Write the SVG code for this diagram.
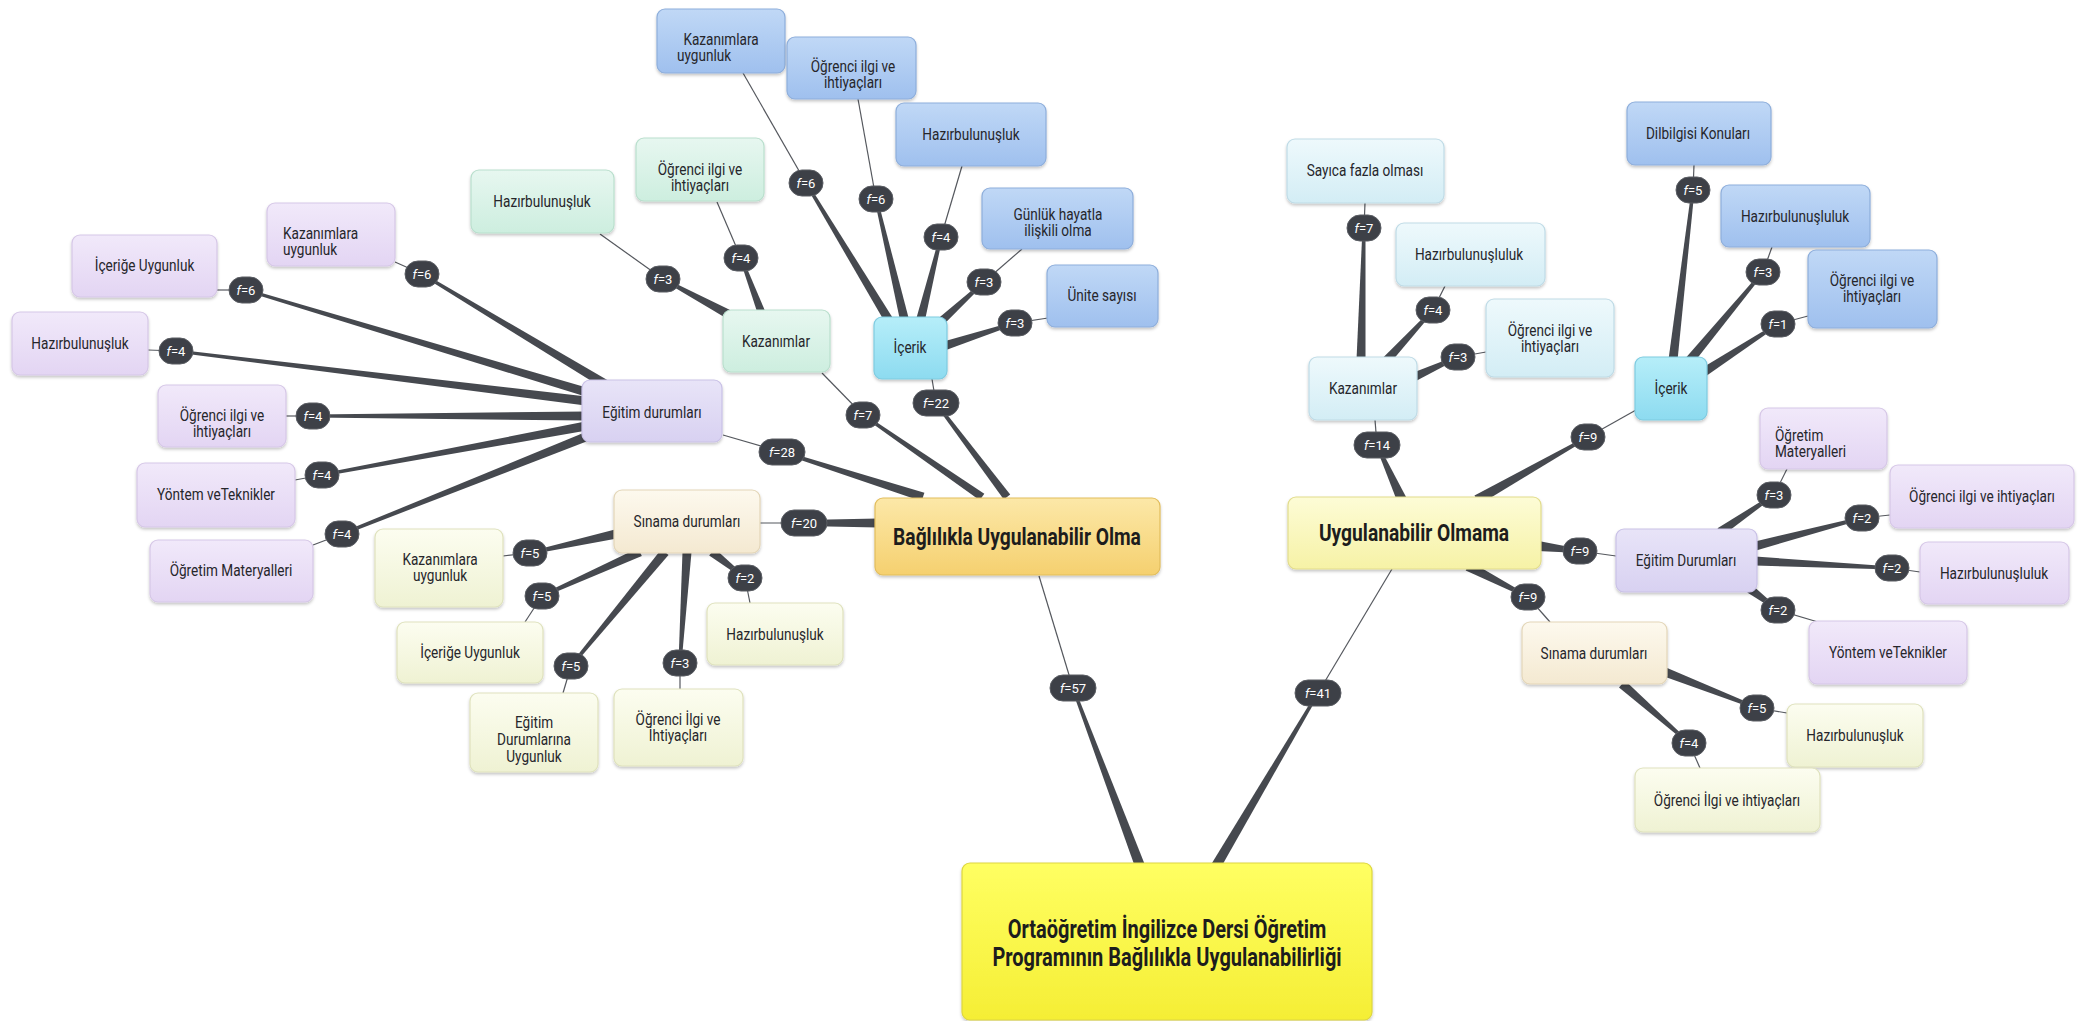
<svg xmlns="http://www.w3.org/2000/svg" width="2087" height="1021" viewBox="0 0 2087 1021">
<style>
  text{font-family:Roboto,"Liberation Sans","Noto Sans",sans-serif;fill:#26262b;font-size:17px;text-anchor:middle}
  text.l{text-anchor:start}
  text.big{font-size:24px;font-weight:700;fill:#1d1d1d}
  text.root{font-size:25px;font-weight:700;fill:#1d1d1d}
  rect{rx:8px;ry:8px;stroke-width:1.2;filter:url(#sh)}
  .pu{fill:url(#gPu);stroke:#d6c7e7}
  .lv{fill:url(#gLv);stroke:#c9c1e6}
  .mi{fill:url(#gMi);stroke:#b9dfcd}
  .bl{fill:url(#gBl);stroke:#8eaedb}
  .cy{fill:url(#gCy);stroke:#7fcbe0}
  .lb{fill:url(#gLb);stroke:#bfdbe6}
  .cr{fill:url(#gCr);stroke:#e3d6b8}
  .yg{fill:url(#gYg);stroke:#dfe2bd}
  .or{fill:url(#gOr);stroke:#e2bd5c}
  .py{fill:url(#gPy);stroke:#e2dc8c}
  .ry{fill:url(#gRy);stroke:#ddd640}
  .w{fill:#46494f}
  .s{stroke:#55585e;stroke-width:1.2;fill:none}
  .b rect{fill:#3d4047;stroke:#5a5d63;stroke-width:1;filter:none;rx:13px;ry:13px}
  .b text{fill:#fff;font-size:13px}
</style>
<defs>
  <filter id="sh" x="-10%" y="-10%" width="120%" height="130%">
    <feDropShadow dx="0" dy="2" stdDeviation="1.6" flood-color="#000" flood-opacity="0.22"/>
  </filter>
  <linearGradient id="gPu" x1="0" y1="0" x2="0" y2="1"><stop offset="0" stop-color="#f1e9fa"/><stop offset="1" stop-color="#e3d5f3"/></linearGradient>
  <linearGradient id="gLv" x1="0" y1="0" x2="0" y2="1"><stop offset="0" stop-color="#e8e4f8"/><stop offset="1" stop-color="#d8d1f1"/></linearGradient>
  <linearGradient id="gMi" x1="0" y1="0" x2="0" y2="1"><stop offset="0" stop-color="#e7f7f0"/><stop offset="1" stop-color="#cdeedf"/></linearGradient>
  <linearGradient id="gBl" x1="0" y1="0" x2="0" y2="1"><stop offset="0" stop-color="#c0d8f6"/><stop offset="1" stop-color="#9fc0ee"/></linearGradient>
  <linearGradient id="gCy" x1="0" y1="0" x2="0" y2="1"><stop offset="0" stop-color="#b6eef9"/><stop offset="1" stop-color="#8ddbf0"/></linearGradient>
  <linearGradient id="gLb" x1="0" y1="0" x2="0" y2="1"><stop offset="0" stop-color="#eef9fc"/><stop offset="1" stop-color="#d3edf5"/></linearGradient>
  <linearGradient id="gCr" x1="0" y1="0" x2="0" y2="1"><stop offset="0" stop-color="#fdf9ee"/><stop offset="1" stop-color="#f4e9d1"/></linearGradient>
  <linearGradient id="gYg" x1="0" y1="0" x2="0" y2="1"><stop offset="0" stop-color="#fcfdf0"/><stop offset="1" stop-color="#eff2d3"/></linearGradient>
  <linearGradient id="gOr" x1="0" y1="0" x2="0" y2="1"><stop offset="0" stop-color="#fce8a8"/><stop offset="1" stop-color="#f5d06f"/></linearGradient>
  <linearGradient id="gPy" x1="0" y1="0" x2="0" y2="1"><stop offset="0" stop-color="#fdfcd6"/><stop offset="1" stop-color="#f6f2a6"/></linearGradient>
  <linearGradient id="gRy" x1="0" y1="0" x2="0" y2="1"><stop offset="0" stop-color="#ffff62"/><stop offset="1" stop-color="#f5ee35"/></linearGradient>
</defs>
<rect x="0" y="0" width="2087" height="1021" fill="#fff" style="filter:none;rx:0;ry:0;stroke:none"/>

<!-- tapered branches (thick at parent, thin at the count label) and thin stems to child -->
<g id="connectors">
  <path class="w" d="M1144.7,864.2L1074.4,687.5L1071.6,688.5L1135.3,867.8Z"/><path class="s" d="M1073,688L1039,576"/>
  <path class="w" d="M1220.3,868.5L1319.3,693.8L1316.7,692.2L1211.7,863.5Z"/><path class="s" d="M1318,693L1392,569"/>
  <path class="w" d="M924.4,492.7L782.5,450.6L781.5,453.4L921.6,501.3Z"/><path class="s" d="M782,452L723,435"/>
  <path class="w" d="M984.3,493.7L863.9,413.8L862.2,416.2L979.7,500.3Z"/><path class="s" d="M863,415L822,373"/>
  <path class="w" d="M1010.2,494.6L937.2,402.1L934.8,403.9L1003.8,499.4Z"/><path class="s" d="M936,403L932,379"/>
  <path class="w" d="M878,518.5L804,520L804,526L878,527.5Z"/><path class="s" d="M804,523L760,523"/>
  <path class="w" d="M607.3,380.1L422.8,272.7L421.2,275.3L602.7,387.9Z"/><path class="s" d="M422,274L395,262"/>
  <path class="w" d="M587.3,387.7L246.4,288.6L245.6,291.4L584.7,396.3Z"/><path class="s" d="M246,290L217,290"/>
  <path class="w" d="M586.5,396.5L176.2,349.5L175.8,352.5L585.5,405.5Z"/><path class="s" d="M176,351L148,350"/>
  <path class="w" d="M586,411.5L313,414.5L313,417.5L586,420.5Z"/><path class="s" d="M313,416L286,416"/>
  <path class="w" d="M585.2,421.6L321.7,473.5L322.3,476.5L586.8,430.4Z"/><path class="s" d="M322,475L295,480"/>
  <path class="w" d="M586.3,431.8L341.4,532.6L342.6,535.4L589.7,440.2Z"/><path class="s" d="M342,534L313,545"/>
  <path class="w" d="M730.1,310L663.7,277.7L662.3,280.3L725.9,318Z"/><path class="s" d="M663,279L600,234"/>
  <path class="w" d="M765.7,312.6L742.4,257.5L739.6,258.5L758.3,315.4Z"/><path class="s" d="M741,258L717,202"/>
  <path class="w" d="M893.9,319.7L807.3,182.2L804.7,183.8L886.1,324.3Z"/><path class="s" d="M806,183L743,73"/>
  <path class="w" d="M909.4,321L877.5,198.7L874.5,199.3L900.6,323Z"/><path class="s" d="M876,199L858,99"/>
  <path class="w" d="M924.4,323.1L942.5,237.4L939.5,236.6L915.6,320.9Z"/><path class="s" d="M941,237L962,166"/>
  <path class="w" d="M939,329.3L985,283.1L983,280.9L933,322.7Z"/><path class="s" d="M984,282L1022,249"/>
  <path class="w" d="M945.4,350.3L1015.5,324.4L1014.5,321.6L942.6,341.7Z"/><path class="s" d="M1015,323L1048,318"/>
  <path class="w" d="M1406.6,497.9L1378.4,444.4L1375.6,445.6L1397.4,502.1Z"/><path class="s" d="M1377,445L1375,420"/>
  <path class="w" d="M1479.5,504.4L1588.7,438.3L1587.3,435.7L1474.5,495.6Z"/><path class="s" d="M1588,437L1636,410"/>
  <path class="w" d="M1537.4,551L1579.8,553L1580.2,549L1538.6,541Z"/><path class="s" d="M1580,551L1616,556"/>
  <path class="w" d="M1465.7,570.4L1527.3,598.3L1528.7,595.7L1470.3,561.6Z"/><path class="s" d="M1528,597L1550,622"/>
  <path class="w" d="M1365.5,360.1L1365.5,228L1362.5,228L1356.5,359.9Z"/><path class="s" d="M1364,228L1365,203"/>
  <path class="w" d="M1390.3,363.1L1434.1,311L1431.9,309L1383.7,356.9Z"/><path class="s" d="M1433,310L1445,286"/>
  <path class="w" d="M1415.9,381.1L1458.6,358.4L1457.4,355.6L1412.1,372.9Z"/><path class="s" d="M1458,357L1486,352"/>
  <path class="w" d="M1677.5,360.5L1694.5,190.2L1691.5,189.8L1668.5,359.5Z"/><path class="s" d="M1693,190L1694,165"/>
  <path class="w" d="M1693.5,362.9L1764.2,273L1761.8,271L1686.5,357.1Z"/><path class="s" d="M1763,272L1772,247"/>
  <path class="w" d="M1706.5,375.8L1778.8,325.3L1777.2,322.7L1701.5,368.2Z"/><path class="s" d="M1778,324L1808,316"/>
  <path class="w" d="M1722.5,535.7L1774.8,496.2L1773.2,493.8L1717.5,528.3Z"/><path class="s" d="M1774,495L1787,469"/>
  <path class="w" d="M1756.1,550.4L1862.4,519.5L1861.6,516.5L1753.9,541.7Z"/><path class="s" d="M1862,518L1890,515"/>
  <path class="w" d="M1754.8,565.5L1891.9,569.5L1892.1,566.5L1755.2,556.5Z"/><path class="s" d="M1892,568L1920,572"/>
  <path class="w" d="M1747.3,592.6L1777.1,611.2L1778.9,608.8L1752.7,585.4Z"/><path class="s" d="M1778,610L1818,622"/>
  <path class="w" d="M1663.4,676.2L1756.5,709.4L1757.5,706.6L1666.6,667.8Z"/><path class="s" d="M1757,708L1787,713"/>
  <path class="w" d="M1619,687.4L1688,744.1L1690,741.9L1625,680.6Z"/><path class="s" d="M1689,743L1700,768"/>
  <path class="w" d="M615,529.6L529.7,551.5L530.3,554.5L617,538.4Z"/><path class="s" d="M530,553L503,556"/>
  <path class="w" d="M638.2,547.9L541.4,594.6L542.6,597.4L641.8,556.1Z"/><path class="s" d="M542,596L525,622"/>
  <path class="w" d="M661.5,549.1L569.8,665L572.2,667L668.5,554.9Z"/><path class="s" d="M571,666L563,693"/>
  <path class="w" d="M682.5,551.7L678.5,662.9L681.5,663.1L691.5,552.3Z"/><path class="s" d="M680,663L680,689"/>
  <path class="w" d="M709.2,555.5L744.1,579.2L745.9,576.8L714.8,548.5Z"/><path class="s" d="M745,578L750,603"/>
</g>

<!-- root -->
<g id="n-root"><rect class="ry" x="962" y="863" width="410" height="157"/>
  <text class="root" transform="matrix(.8 0 0 1 1167 0)"><tspan x="0" y="938">Ortaöğretim İngilizce Dersi Öğretim</tspan><tspan x="0" y="966">Programının Bağlılıkla Uygulanabilirliği</tspan></text></g>

<!-- main branches -->
<g id="n-baglilikla"><rect class="or" x="875" y="498" width="285" height="77"/>
  <text class="big" transform="matrix(.8 0 0 1 1017 0)" y="545">Bağlılıkla Uygulanabilir Olma</text></g>
<g id="n-uygulanabilir-olmama"><rect class="py" x="1288" y="497" width="253" height="72"/>
  <text class="big" transform="matrix(.8 0 0 1 1414 0)" y="541">Uygulanabilir Olmama</text></g>

<!-- left side: second level -->
<g id="n-egitim-l"><rect class="lv" x="582" y="380" width="140" height="62"/>
  <text transform="matrix(.8 0 0 1 652 0)" y="418">Eğitim durumları</text></g>
<g id="n-kazanimlar-l"><rect class="mi" x="723" y="310" width="107" height="62"/>
  <text transform="matrix(.8 0 0 1 776 0)" y="347">Kazanımlar</text></g>
<g id="n-icerik-l"><rect class="cy" x="874" y="317" width="73" height="62"/>
  <text transform="matrix(.8 0 0 1 910 0)" y="353">İçerik</text></g>
<g id="n-sinama-l"><rect class="cr" x="614" y="490" width="146" height="63"/>
  <text transform="matrix(.8 0 0 1 687 0)" y="527">Sınama durumları</text></g>

<!-- left side: Eğitim durumları leaves -->
<g id="n-el-kazanim"><rect class="pu" x="267" y="203" width="128" height="63"/>
  <text class="l" transform="matrix(.8 0 0 1 283 0)"><tspan x="0" y="239">Kazanımlara</tspan><tspan x="0" y="255">uygunluk</tspan></text></g>
<g id="n-el-icerige"><rect class="pu" x="72" y="235" width="145" height="62"/>
  <text transform="matrix(.8 0 0 1 144.5 0)" y="271">İçeriğe Uygunluk</text></g>
<g id="n-el-hazir"><rect class="pu" x="12" y="312" width="136" height="63"/>
  <text transform="matrix(.8 0 0 1 80 0)" y="349">Hazırbulunuşluk</text></g>
<g id="n-el-ogrenci"><rect class="pu" x="158" y="385" width="128" height="62"/>
  <text transform="matrix(.8 0 0 1 222 0)"><tspan x="0" y="421">Öğrenci ilgi ve</tspan><tspan x="0" y="437">ihtiyaçları</tspan></text></g>
<g id="n-el-yontem"><rect class="pu" x="137" y="463" width="158" height="64"/>
  <text transform="matrix(.8 0 0 1 216 0)" y="500">Yöntem veTeknikler</text></g>
<g id="n-el-materyal"><rect class="pu" x="150" y="540" width="163" height="62"/>
  <text transform="matrix(.8 0 0 1 231 0)" y="576">Öğretim Materyalleri</text></g>

<!-- left side: Kazanımlar leaves -->
<g id="n-kl-hazir"><rect class="mi" x="471" y="170" width="143" height="63"/>
  <text transform="matrix(.8 0 0 1 542 0)" y="207">Hazırbulunuşluk</text></g>
<g id="n-kl-ogrenci"><rect class="mi" x="636" y="138" width="128" height="63"/>
  <text transform="matrix(.8 0 0 1 700 0)"><tspan x="0" y="175">Öğrenci ilgi ve</tspan><tspan x="0" y="191">ihtiyaçları</tspan></text></g>

<!-- left side: İçerik leaves -->
<g id="n-il-kazanim"><rect class="bl" x="657" y="9" width="128" height="64"/>
  <text transform="matrix(.8 0 0 1 721 0)" y="45">Kazanımlara</text>
  <text class="l" transform="matrix(.8 0 0 1 677 0)" y="61">uygunluk</text></g>
<g id="n-il-ogrenci"><rect class="bl" x="787" y="37" width="129" height="62"/>
  <text transform="matrix(.8 0 0 1 853 0)"><tspan x="0" y="72">Öğrenci ilgi ve</tspan><tspan x="0" y="88">ihtiyaçları</tspan></text></g>
<g id="n-il-hazir"><rect class="bl" x="896" y="103" width="150" height="63"/>
  <text transform="matrix(.8 0 0 1 971 0)" y="140">Hazırbulunuşluk</text></g>
<g id="n-il-gunluk"><rect class="bl" x="982" y="188" width="151" height="61"/>
  <text transform="matrix(.8 0 0 1 1058 0)"><tspan x="0" y="220">Günlük hayatla</tspan><tspan x="0" y="236">ilişkili olma</tspan></text></g>
<g id="n-il-unite"><rect class="bl" x="1047" y="265" width="111" height="62"/>
  <text transform="matrix(.8 0 0 1 1102 0)" y="301">Ünite sayısı</text></g>

<!-- left side: Sınama durumları leaves -->
<g id="n-sl-kazanim"><rect class="yg" x="375" y="529" width="128" height="78"/>
  <text transform="matrix(.8 0 0 1 440 0)"><tspan x="0" y="565">Kazanımlara</tspan><tspan x="0" y="581">uygunluk</tspan></text></g>
<g id="n-sl-icerige"><rect class="yg" x="397" y="622" width="146" height="61"/>
  <text transform="matrix(.8 0 0 1 470 0)" y="658">İçeriğe Uygunluk</text></g>
<g id="n-sl-egitim"><rect class="yg" x="470" y="693" width="128" height="79"/>
  <text transform="matrix(.8 0 0 1 534 0)"><tspan x="0" y="728">Eğitim</tspan><tspan x="0" y="745">Durumlarına</tspan><tspan x="0" y="762">Uygunluk</tspan></text></g>
<g id="n-sl-ogrenci"><rect class="yg" x="614" y="689" width="129" height="77"/>
  <text transform="matrix(.8 0 0 1 678 0)"><tspan x="0" y="725">Öğrenci İlgi ve</tspan><tspan x="0" y="741">İhtiyaçları</tspan></text></g>
<g id="n-sl-hazir"><rect class="yg" x="707" y="603" width="136" height="62"/>
  <text transform="matrix(.8 0 0 1 775 0)" y="640">Hazırbulunuşluk</text></g>

<!-- right side: second level -->
<g id="n-kazanimlar-r"><rect class="lb" x="1309" y="357" width="108" height="63"/>
  <text transform="matrix(.8 0 0 1 1363 0)" y="394">Kazanımlar</text></g>
<g id="n-icerik-r"><rect class="cy" x="1635" y="357" width="72" height="63"/>
  <text transform="matrix(.8 0 0 1 1671 0)" y="394">İçerik</text></g>
<g id="n-egitim-r"><rect class="lv" x="1616" y="529" width="141" height="63"/>
  <text transform="matrix(.8 0 0 1 1686 0)" y="566">Eğitim Durumları</text></g>
<g id="n-sinama-r"><rect class="cr" x="1522" y="622" width="145" height="62"/>
  <text transform="matrix(.8 0 0 1 1594 0)" y="659">Sınama durumları</text></g>

<!-- right side: Kazanımlar leaves -->
<g id="n-kr-sayica"><rect class="lb" x="1287" y="139" width="157" height="64"/>
  <text transform="matrix(.8 0 0 1 1365 0)" y="176">Sayıca fazla olması</text></g>
<g id="n-kr-hazir"><rect class="lb" x="1396" y="223" width="149" height="63"/>
  <text transform="matrix(.8 0 0 1 1469 0)" y="260">Hazırbulunuşluluk</text></g>
<g id="n-kr-ogrenci"><rect class="lb" x="1486" y="299" width="128" height="78"/>
  <text transform="matrix(.8 0 0 1 1550 0)"><tspan x="0" y="336">Öğrenci ilgi ve</tspan><tspan x="0" y="352">ihtiyaçları</tspan></text></g>

<!-- right side: İçerik leaves -->
<g id="n-ir-dilbilgisi"><rect class="bl" x="1627" y="102" width="144" height="63"/>
  <text transform="matrix(.8 0 0 1 1698 0)" y="139">Dilbilgisi Konuları</text></g>
<g id="n-ir-hazir"><rect class="bl" x="1721" y="185" width="149" height="62"/>
  <text transform="matrix(.8 0 0 1 1795 0)" y="222">Hazırbulunuşluluk</text></g>
<g id="n-ir-ogrenci"><rect class="bl" x="1808" y="250" width="129" height="78"/>
  <text transform="matrix(.8 0 0 1 1872 0)"><tspan x="0" y="286">Öğrenci ilgi ve</tspan><tspan x="0" y="302">ihtiyaçları</tspan></text></g>

<!-- right side: Eğitim Durumları leaves -->
<g id="n-er-materyal"><rect class="pu" x="1760" y="408" width="127" height="61"/>
  <text class="l" transform="matrix(.8 0 0 1 1775 0)"><tspan x="0" y="441">Öğretim</tspan><tspan x="0" y="457">Materyalleri</tspan></text></g>
<g id="n-er-ogrenci"><rect class="pu" x="1890" y="465" width="184" height="63"/>
  <text transform="matrix(.8 0 0 1 1982 0)" y="502">Öğrenci ilgi ve ihtiyaçları</text></g>
<g id="n-er-hazir"><rect class="pu" x="1920" y="542" width="149" height="62"/>
  <text transform="matrix(.8 0 0 1 1994 0)" y="579">Hazırbulunuşluluk</text></g>
<g id="n-er-yontem"><rect class="pu" x="1809" y="621" width="158" height="63"/>
  <text transform="matrix(.8 0 0 1 1888 0)" y="658">Yöntem veTeknikler</text></g>

<!-- right side: Sınama durumları leaves -->
<g id="n-sr-hazir"><rect class="yg" x="1787" y="704" width="136" height="63"/>
  <text transform="matrix(.8 0 0 1 1855 0)" y="741">Hazırbulunuşluk</text></g>
<g id="n-sr-ogrenci"><rect class="yg" x="1635" y="768" width="185" height="64"/>
  <text transform="matrix(.8 0 0 1 1727 0)" y="806">Öğrenci İlgi ve ihtiyaçları</text></g>

<!-- frequency labels on the branches -->
<g id="labels">
  <g class="b"><rect x="1050" y="675" width="46" height="26"/><text x="1073" y="692.5"><tspan font-style="italic">f</tspan>=57</text></g>
  <g class="b"><rect x="1295" y="680" width="46" height="26"/><text x="1318" y="697.5"><tspan font-style="italic">f</tspan>=41</text></g>
  <g class="b"><rect x="759" y="439" width="46" height="26"/><text x="782" y="456.5"><tspan font-style="italic">f</tspan>=28</text></g>
  <g class="b"><rect x="846" y="402" width="34" height="26"/><text x="863" y="419.5"><tspan font-style="italic">f</tspan>=7</text></g>
  <g class="b"><rect x="913" y="390" width="46" height="26"/><text x="936" y="407.5"><tspan font-style="italic">f</tspan>=22</text></g>
  <g class="b"><rect x="781" y="510" width="46" height="26"/><text x="804" y="527.5"><tspan font-style="italic">f</tspan>=20</text></g>
  <g class="b"><rect x="405" y="261" width="34" height="26"/><text x="422" y="278.5"><tspan font-style="italic">f</tspan>=6</text></g>
  <g class="b"><rect x="229" y="277" width="34" height="26"/><text x="246" y="294.5"><tspan font-style="italic">f</tspan>=6</text></g>
  <g class="b"><rect x="159" y="338" width="34" height="26"/><text x="176" y="355.5"><tspan font-style="italic">f</tspan>=4</text></g>
  <g class="b"><rect x="296" y="403" width="34" height="26"/><text x="313" y="420.5"><tspan font-style="italic">f</tspan>=4</text></g>
  <g class="b"><rect x="305" y="462" width="34" height="26"/><text x="322" y="479.5"><tspan font-style="italic">f</tspan>=4</text></g>
  <g class="b"><rect x="325" y="521" width="34" height="26"/><text x="342" y="538.5"><tspan font-style="italic">f</tspan>=4</text></g>
  <g class="b"><rect x="646" y="266" width="34" height="26"/><text x="663" y="283.5"><tspan font-style="italic">f</tspan>=3</text></g>
  <g class="b"><rect x="724" y="245" width="34" height="26"/><text x="741" y="262.5"><tspan font-style="italic">f</tspan>=4</text></g>
  <g class="b"><rect x="789" y="170" width="34" height="26"/><text x="806" y="187.5"><tspan font-style="italic">f</tspan>=6</text></g>
  <g class="b"><rect x="859" y="186" width="34" height="26"/><text x="876" y="203.5"><tspan font-style="italic">f</tspan>=6</text></g>
  <g class="b"><rect x="924" y="224" width="34" height="26"/><text x="941" y="241.5"><tspan font-style="italic">f</tspan>=4</text></g>
  <g class="b"><rect x="967" y="269" width="34" height="26"/><text x="984" y="286.5"><tspan font-style="italic">f</tspan>=3</text></g>
  <g class="b"><rect x="998" y="310" width="34" height="26"/><text x="1015" y="327.5"><tspan font-style="italic">f</tspan>=3</text></g>
  <g class="b"><rect x="1354" y="432" width="46" height="26"/><text x="1377" y="449.5"><tspan font-style="italic">f</tspan>=14</text></g>
  <g class="b"><rect x="1571" y="424" width="34" height="26"/><text x="1588" y="441.5"><tspan font-style="italic">f</tspan>=9</text></g>
  <g class="b"><rect x="1563" y="538" width="34" height="26"/><text x="1580" y="555.5"><tspan font-style="italic">f</tspan>=9</text></g>
  <g class="b"><rect x="1511" y="584" width="34" height="26"/><text x="1528" y="601.5"><tspan font-style="italic">f</tspan>=9</text></g>
  <g class="b"><rect x="1347" y="215" width="34" height="26"/><text x="1364" y="232.5"><tspan font-style="italic">f</tspan>=7</text></g>
  <g class="b"><rect x="1416" y="297" width="34" height="26"/><text x="1433" y="314.5"><tspan font-style="italic">f</tspan>=4</text></g>
  <g class="b"><rect x="1441" y="344" width="34" height="26"/><text x="1458" y="361.5"><tspan font-style="italic">f</tspan>=3</text></g>
  <g class="b"><rect x="1676" y="177" width="34" height="26"/><text x="1693" y="194.5"><tspan font-style="italic">f</tspan>=5</text></g>
  <g class="b"><rect x="1746" y="259" width="34" height="26"/><text x="1763" y="276.5"><tspan font-style="italic">f</tspan>=3</text></g>
  <g class="b"><rect x="1761" y="311" width="34" height="26"/><text x="1778" y="328.5"><tspan font-style="italic">f</tspan>=1</text></g>
  <g class="b"><rect x="1757" y="482" width="34" height="26"/><text x="1774" y="499.5"><tspan font-style="italic">f</tspan>=3</text></g>
  <g class="b"><rect x="1845" y="505" width="34" height="26"/><text x="1862" y="522.5"><tspan font-style="italic">f</tspan>=2</text></g>
  <g class="b"><rect x="1875" y="555" width="34" height="26"/><text x="1892" y="572.5"><tspan font-style="italic">f</tspan>=2</text></g>
  <g class="b"><rect x="1761" y="597" width="34" height="26"/><text x="1778" y="614.5"><tspan font-style="italic">f</tspan>=2</text></g>
  <g class="b"><rect x="1740" y="695" width="34" height="26"/><text x="1757" y="712.5"><tspan font-style="italic">f</tspan>=5</text></g>
  <g class="b"><rect x="1672" y="730" width="34" height="26"/><text x="1689" y="747.5"><tspan font-style="italic">f</tspan>=4</text></g>
  <g class="b"><rect x="513" y="540" width="34" height="26"/><text x="530" y="557.5"><tspan font-style="italic">f</tspan>=5</text></g>
  <g class="b"><rect x="525" y="583" width="34" height="26"/><text x="542" y="600.5"><tspan font-style="italic">f</tspan>=5</text></g>
  <g class="b"><rect x="554" y="653" width="34" height="26"/><text x="571" y="670.5"><tspan font-style="italic">f</tspan>=5</text></g>
  <g class="b"><rect x="663" y="650" width="34" height="26"/><text x="680" y="667.5"><tspan font-style="italic">f</tspan>=3</text></g>
  <g class="b"><rect x="728" y="565" width="34" height="26"/><text x="745" y="582.5"><tspan font-style="italic">f</tspan>=2</text></g>
</g>
</svg>
